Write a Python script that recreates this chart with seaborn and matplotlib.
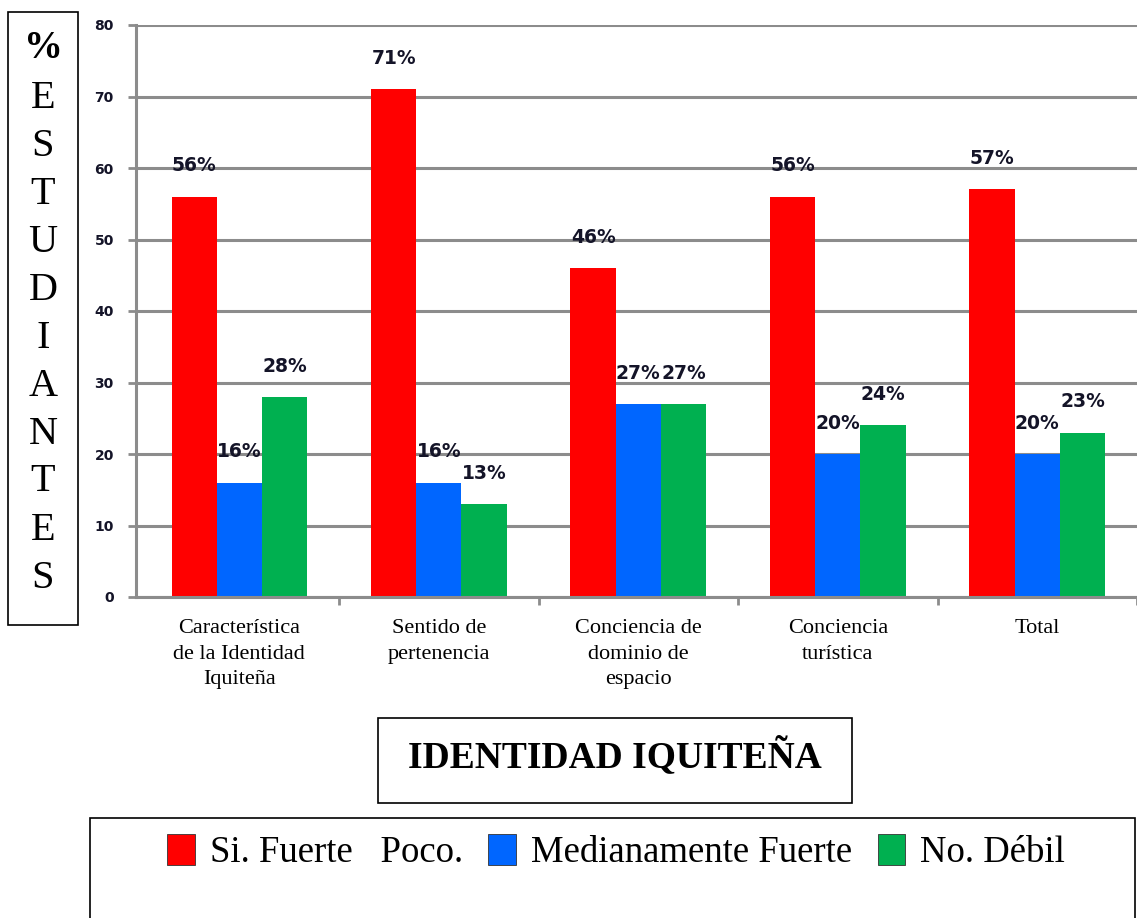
import numpy as np
import pandas as pd
import matplotlib
matplotlib.use("Agg")
import matplotlib.pyplot as plt
from matplotlib.patches import Rectangle
import seaborn as sns

categories = ["Característica\nde la Identidad\nIquiteña", "Sentido de\npertenencia",
              "Conciencia de\ndominio de\nespacio", "Conciencia\nturística", "Total"]
series = ["Si. Fuerte   Poco.", "Medianamente Fuerte", "No. Débil"]
si_fuerte = [56, 71, 46, 56, 57]
medianamente = [16, 16, 27, 20, 20]
no_debil = [28, 13, 27, 24, 23]
yticks = [0, 10, 20, 30, 40, 50, 60, 70, 80]
colors = ["#FF0000", "#0066FF", "#00B050"]

df = pd.DataFrame({
    "cat": categories * 3,
    "serie": [series[0]] * 5 + [series[1]] * 5 + [series[2]] * 5,
    "valor": si_fuerte + medianamente + no_debil,
})

sns.set_style("white")
plt.rcParams["text.color"] = "black"
serif = ["Liberation Serif", "DejaVu Serif"]
grey = "#8c8c8c"
dark = "#141428"

fig = plt.figure(figsize=(11.37, 9.18), dpi=100)
ax = fig.add_axes([136 / 1137, 1 - 597 / 918, 1001 / 1137, 572 / 918])

sns.barplot(data=df, x="cat", y="valor", hue="serie", palette=colors,
            width=0.68, gap=0, saturation=1, ax=ax, legend=False, errorbar=None,
            linewidth=0)

# value labels over each bar
for cont in ax.containers:
    for bar in cont:
        h = bar.get_height()
        ax.text(bar.get_x() + bar.get_width() / 2, h + 4.3, f"{h:.0f}%",
                ha="center", va="center", fontsize=13.5, fontweight="bold",
                color=dark, family="DejaVu Sans")

ax.set_ylim(0, 80)
ax.set_xlim(-0.518, 4.445)
ax.set_yticks(yticks)
ax.set_yticklabels([str(t) for t in yticks], fontsize=10, fontweight="bold",
                   color=dark, family="DejaVu Sans")
ax.yaxis.grid(True, color=grey, linewidth=2.2)
ax.set_axisbelow(True)
ax.tick_params(axis="y", length=6, width=2, color=grey, left=True, pad=10)
ax.set_xticks(range(5))
ax.set_xticklabels(categories, fontsize=16, family=serif, linespacing=1.45,
                   color="black")
ax.tick_params(axis="x", length=0, pad=16)
ax.set_xticks(np.arange(0.5, 4.6, 1), minor=True)
ax.tick_params(axis="x", which="minor", length=6, width=2, color=grey, bottom=True)
for s in ["top", "right"]:
    ax.spines[s].set_visible(False)
for s in ["left", "bottom"]:
    ax.spines[s].set_color(grey)
    ax.spines[s].set_linewidth(2.2)
ax.set_xlabel("")
ax.set_ylabel("")

W, H = 1137, 918

def box(x0, y0, x1, y1):
    fig.patches.append(Rectangle((x0 / W, 1 - y1 / H), (x1 - x0) / W, (y1 - y0) / H,
                                 transform=fig.transFigure, fill=False,
                                 edgecolor="black", linewidth=1.2))

# vertical y-axis label box
box(8, 12, 78, 625)
fig.text(43 / W, 1 - 48 / H, "%", ha="center", va="center", fontsize=28,
         fontweight="bold", family=serif, color="black")
for i, ch in enumerate("ESTUDIANTES"):
    fig.text(43 / W, 1 - (98 + i * 48) / H, ch, ha="center", va="center",
             fontsize=29, family=serif, color="black")

# title box
box(378, 718, 852, 803)
fig.text(615 / W, 1 - 756 / H, "IDENTIDAD IQUITEÑA", ha="center", va="center",
         fontsize=27, fontweight="bold", family=serif, color="black")

# legend box
box(90, 818, 1135, 930)
handles = [Rectangle((0, 0), 1, 1, facecolor=c, edgecolor="#333333", linewidth=0.6)
           for c in colors]
leg = fig.legend(handles, series, loc="center", bbox_to_anchor=(616 / W, 1 - 852 / H),
                 ncol=3, frameon=False, prop={"family": serif, "size": 26.5},
                 handlelength=0.75, handleheight=0.9, handletextpad=0.4,
                 columnspacing=0.7)
for t in leg.get_texts():
    t.set_color("black")

fig.savefig("out.png", dpi=100)
